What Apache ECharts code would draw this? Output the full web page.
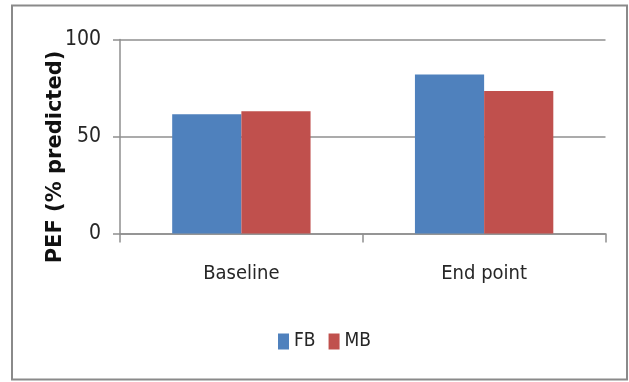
<!DOCTYPE html>
<html>
<head>
<meta charset="utf-8">
<script src="https://cdn.jsdelivr.net/npm/echarts@6/dist/echarts.min.js"></script>
<style>
  html, body { margin: 0; padding: 0; background: #fff; }
  #chart { width: 629px; height: 382px; }
</style>
</head>
<body>
<div id="chart"></div>
<script>
// PEF (% predicted) at baseline and end point for the FB and MB groups
const categories = ['Baseline', 'End point'];
const seriesNames = ['FB', 'MB'];
const fbValues = [61.5, 82];
const mbValues = [63, 73.5];
const yTicks = [0, 50, 100];

const labelFont = "'DejaVu Sans Condensed', 'DejaVu Sans', sans-serif";
const gridGray = '#8f8f8f';
const textColor = '#262626';

const chart = echarts.init(document.getElementById('chart'), null, { renderer: 'canvas' });

chart.setOption({
  backgroundColor: '#ffffff',
  animation: false,
  grid: { left: 120, right: 23.5, top: 39.5, bottom: 148.5, containLabel: false },
  legend: {
    data: seriesNames,
    left: 273,
    top: 327,
    itemWidth: 11,
    itemHeight: 16,
    itemGap: 13,
    icon: 'rect',
    textStyle: { fontFamily: labelFont, fontSize: 19, color: textColor }
  },
  xAxis: {
    type: 'category',
    data: categories,
    axisLine: { show: true, lineStyle: { color: gridGray, width: 1.5 } },
    axisTick: { show: true, length: 9, alignWithLabel: false, lineStyle: { color: gridGray, width: 1.5 } },
    axisLabel: { margin: 30, fontFamily: labelFont, fontSize: 20, color: textColor }
  },
  yAxis: {
    type: 'value',
    min: yTicks[0],
    max: yTicks[yTicks.length - 1],
    interval: yTicks[1] - yTicks[0],
    axisLine: { show: true, lineStyle: { color: gridGray, width: 1.5 } },
    axisTick: { show: true, length: 7, lineStyle: { color: gridGray, width: 1.5 } },
    axisLabel: { margin: 19, fontFamily: labelFont, fontSize: 21, color: textColor },
    splitLine: { show: true, lineStyle: { color: gridGray, width: 1.5 } }
  },
  series: [
    {
      name: seriesNames[0],
      type: 'bar',
      data: fbValues,
      barGap: '0%',
      barCategoryGap: '43%',
      itemStyle: { color: '#4F81BD' }
    },
    {
      name: seriesNames[1],
      type: 'bar',
      data: mbValues,
      itemStyle: { color: '#C0504D' }
    }
  ],
  graphic: [
    {
      type: 'rect',
      shape: { x: 12, y: 5.5, width: 615, height: 374 },
      style: { fill: 'none', stroke: '#8a8a8a', lineWidth: 2 },
      silent: true
    },
    {
      type: 'text',
      x: 56,
      y: 157,
      rotation: Math.PI / 2,
      style: {
        text: 'PEF (% predicted)',
        fontFamily: "'DejaVu Sans', sans-serif",
        fontWeight: 'bold',
        fontSize: 21,
        fill: '#111',
        align: 'center',
        verticalAlign: 'middle'
      }
    }
  ]
});
</script>
</body>
</html>
